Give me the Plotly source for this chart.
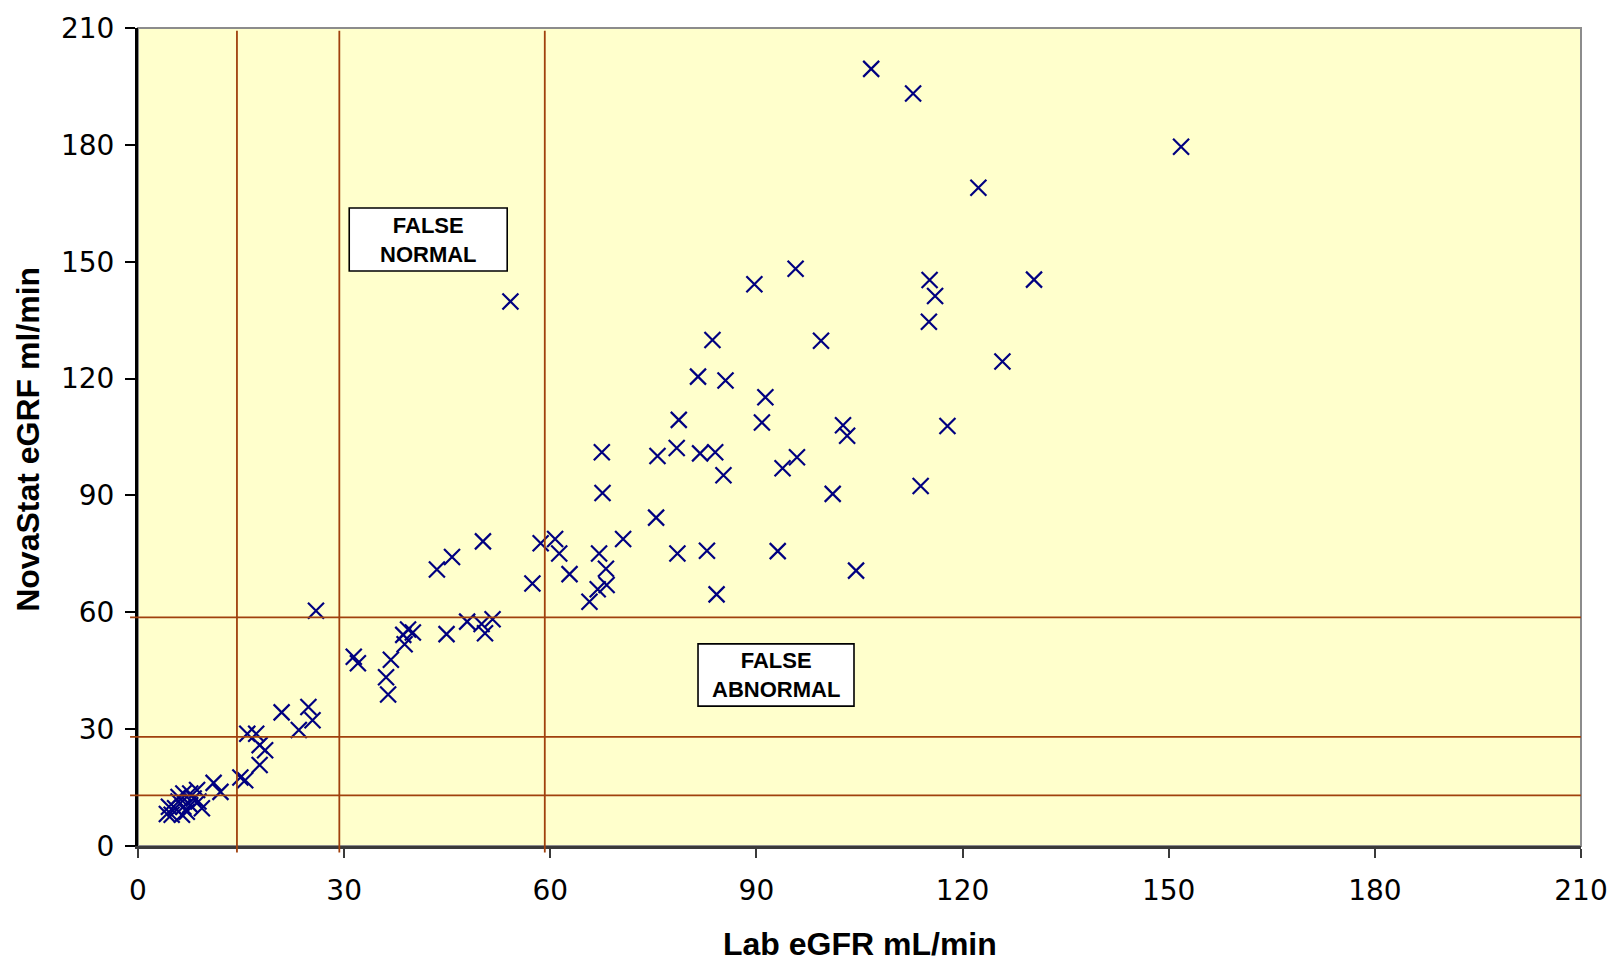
import plotly.graph_objects as go

# Lab eGFR (x) vs NovaStat eGFR (y), mL/min
lab_egfr = [
    106.7, 112.8, 151.8, 122.3,
    95.7, 89.7, 115.2, 116.0, 130.4, 115.1, 54.2,
    83.6, 99.4, 125.8, 81.5, 85.5, 91.3,
    78.7, 90.8, 102.6, 103.2, 117.8,
    78.4, 75.6, 81.8, 84.0, 67.5, 85.2, 93.8, 95.9,
    101.1, 113.9, 67.6,
    75.4, 70.6, 60.7, 58.6, 50.2, 61.3, 62.8, 67.1, 68.1, 68.2, 66.9, 65.7,
    78.5, 82.8, 93.1, 84.2, 104.5, 57.4,
    43.5, 45.7,
    25.9,
    47.9, 50.0, 51.6, 50.5, 44.9,
    39.3, 40.0, 38.6, 38.8,
    36.8, 36.1, 36.4, 31.4, 32.0,
    20.9, 24.8, 25.4, 23.4,
    15.9, 17.2, 17.7, 18.5, 17.7,
    14.9, 15.6, 11.0, 12.0,
    8.6, 7.6, 6.6, 5.9, 8.8, 9.3, 7.6, 6.6, 5.4, 4.5, 4.9, 6.4, 7.1, 5.9, 8.1, 4.2,
]
novastat_egfr = [
    199.5, 193.2, 179.5, 169.0,
    148.2, 144.2, 145.3, 141.2, 145.4, 134.6, 139.8,
    129.9, 129.7, 124.4, 120.5, 119.5, 115.2,
    109.4, 108.7, 108.0, 105.3, 107.8,
    102.2, 100.1, 100.8, 101.1, 101.1, 95.2, 97.0, 99.8,
    90.4, 92.4, 90.6,
    84.3, 78.8, 78.8, 77.7, 78.2, 75.1, 69.8, 75.1, 71.2, 67.0, 65.9, 62.7,
    75.1, 75.8, 75.7, 64.6, 70.7, 67.4,
    71.0, 74.2,
    60.4,
    57.6, 57.0, 58.2, 54.6, 54.4,
    55.6, 54.8, 54.2, 51.8,
    47.8, 43.3, 38.9, 48.6, 46.9,
    34.3, 35.7, 32.3, 29.8,
    28.8, 28.8, 25.9, 24.6, 20.8,
    17.6, 16.9, 16.2, 13.9,
    14.4, 13.5, 13.5, 12.6, 11.4, 9.7, 10.5, 10.1, 9.7, 10.1, 8.0, 8.0, 8.8, 11.4, 12.2, 8.2,
]

# CKD stage cut-offs drawn as reference lines
lab_cutoffs = [14.4, 29.3, 59.2]
novastat_cutoffs = [13.0, 28.0, 58.7]

axis_ticks = [0, 30, 60, 90, 120, 150, 180, 210]

# Labelled boxes: (text, x0, x1, y0, y1)
region_boxes = [
    ("FALSE<br>NORMAL", 30.74, 53.73, 147.6, 163.8),
    ("FALSE<br>ABNORMAL", 81.5, 104.2, 35.9, 51.9),
]

line_col = "#A0410D"
font_family = "Liberation Sans, Arial, sans-serif"
tick_family = "DejaVu Sans, Verdana, sans-serif"

fig = go.Figure()
fig.add_trace(go.Scatter(
    x=lab_egfr, y=novastat_egfr, mode="markers",
    marker=dict(symbol="x-thin", size=16, line=dict(width=2.2, color="#000080"), color="#000080"),
    showlegend=False, hoverinfo="x+y",
))

shapes = []
# plot-area frame (top/right in grey)
shapes.append(dict(type="rect", xref="paper", yref="paper", x0=0, x1=1, y0=0, y1=1,
                   line=dict(color="#8c8c8c", width=2), layer="below"))
for xv in lab_cutoffs:
    shapes.append(dict(type="line", xref="x", yref="paper", x0=xv, x1=xv, y0=-0.008, y1=0.9965,
                       line=dict(color=line_col, width=1.8), layer="above"))
for yv in novastat_cutoffs:
    shapes.append(dict(type="line", xref="paper", yref="y", x0=-0.0055, x1=1, y0=yv, y1=yv,
                       line=dict(color=line_col, width=1.8), layer="above"))

annotations = []
for text, x0, x1, y0, y1 in region_boxes:
    shapes.append(dict(type="rect", xref="x", yref="y", x0=x0, x1=x1, y0=y0, y1=y1,
                       line=dict(color="black", width=1.6), fillcolor="white", layer="above"))
    annotations.append(dict(x=(x0 + x1) / 2, y=(y0 + y1) / 2, xref="x", yref="y", text=f"<b>{text}</b>",
                            showarrow=False, font=dict(family=font_family, size=22, color="black"),
                            xanchor="center", yanchor="middle"))

annotations.append(dict(text="<b>Lab eGFR mL/min</b>", xref="paper", yref="paper", x=0.5, y=-0.1198,
                        showarrow=False, xanchor="center", yanchor="middle",
                        font=dict(family=font_family, size=32, color="black")))
annotations.append(dict(text="<b>NovaStat eGRF ml/min</b>", xref="paper", yref="paper", x=-0.076, y=0.497,
                        showarrow=False, xanchor="center", yanchor="middle", textangle=-90,
                        font=dict(family=font_family, size=32, color="black")))

fig.update_layout(
    width=1614, height=962,
    margin=dict(l=138, r=33, t=28, b=116, autoexpand=False),
    paper_bgcolor="white", plot_bgcolor="#FFFFCC",
    shapes=shapes, annotations=annotations,
    font=dict(family=font_family, color="black"),
)
fig.update_xaxes(range=[0, 210], tickvals=axis_ticks, showgrid=False, zeroline=False,
                 showline=True, linecolor="#3a3a3a", linewidth=3, automargin=False,
                 ticks="outside", ticklen=9, tickwidth=1.5, tickcolor="#3a3a3a",
                 tickfont=dict(family=tick_family, size=28, color="black"), ticklabelstandoff=8)
fig.update_yaxes(range=[0, 210], tickvals=axis_ticks, showgrid=False, zeroline=False,
                 showline=True, linecolor="black", linewidth=3, automargin=False,
                 ticks="outside", ticklen=10, tickwidth=2, tickcolor="black",
                 tickfont=dict(family=tick_family, size=28, color="black"), ticklabelstandoff=5)

fig.write_html("out.html")
